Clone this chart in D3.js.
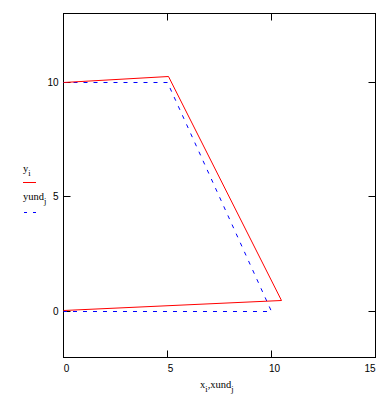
<!DOCTYPE html>
<html>
<head>
<meta charset="utf-8">
<script src="https://cdn.jsdelivr.net/npm/d3@7"></script>
<style>
  body { margin: 0; background: #fff; }
  svg { display: block; }
</style>
</head>
<body>
<div id="chart"></div>
<script>
// data
var xVals = [0, 5.05, 10.5, 0];
var yVals = [10, 10.25, 0.5, 0.03];
var xundVals = [0, 5, 10, 0];
var yundVals = [10, 10, 0, 0];
var xTicks = [0, 5, 10, 15];
var yTicks = [0, 5, 10];

var svgWidth = 388, svgHeight = 396;
var margin = { top: 13, right: 13, bottom: 39, left: 63 };
var width = svgWidth - margin.left - margin.right;
var height = svgHeight - margin.top - margin.bottom;

var svg = d3.select("#chart").append("svg")
  .attr("width", svgWidth)
  .attr("height", svgHeight);

// half-pixel offset so 1px lines land on whole pixels
var chartGroup = svg.append("g")
  .attr("transform", `translate(${margin.left + 0.5}, ${margin.top + 0.5})`);

var xScale = d3.scaleLinear().domain([0, 15]).rangeRound([0, width]);
var yScale = d3.scaleLinear().domain([-2, 13]).rangeRound([height, 0]);

// inward ticks on all four sides
var tick = 7;
function noLabels(g) { g.select(".domain").remove(); g.selectAll("text").remove(); }

chartGroup.append("g")
  .attr("transform", `translate(0, ${height})`)
  .call(d3.axisBottom(xScale).tickValues(xTicks).tickSize(-tick).tickPadding(7).offset(0))
  .call(g => g.select(".domain").remove())
  .call(g => g.selectAll("text")
    .attr("dx", (d, i) => i === xTicks.length - 1 ? 0 : 3)
    .attr("text-anchor", (d, i) => i === xTicks.length - 1 ? "end" : "middle"));

chartGroup.append("g")
  .call(d3.axisTop(xScale).tickValues(xTicks).tickSize(-tick).offset(0))
  .call(noLabels);

chartGroup.append("g")
  .call(d3.axisLeft(yScale).tickValues(yTicks).tickSize(-tick).tickPadding(5).offset(0))
  .call(g => g.select(".domain").remove());

chartGroup.append("g")
  .attr("transform", `translate(${width}, 0)`)
  .call(d3.axisRight(yScale).tickValues(yTicks).tickSize(-tick).offset(0))
  .call(noLabels);

chartGroup.selectAll(".tick line").attr("stroke", "#000");
chartGroup.selectAll(".tick text")
  .style("font-family", "'Liberation Sans', Arial, sans-serif")
  .style("font-size", "10px")
  .attr("fill", "#000");

// frame
chartGroup.append("rect")
  .attr("x", 0).attr("y", 0)
  .attr("width", width).attr("height", height)
  .attr("fill", "none")
  .attr("stroke", "#000");

// series
var line = d3.line()
  .x(d => xScale(d[0]))
  .y(d => yScale(d[1]));

chartGroup.append("path")
  .datum(xundVals.map((x, i) => [x, yundVals[i]]))
  .attr("d", line)
  .attr("fill", "none")
  .attr("stroke", "#0000ff")
  .attr("stroke-width", 1)
  .attr("stroke-dasharray", "4,6");

chartGroup.append("path")
  .datum(xVals.map((x, i) => [x, yVals[i]]))
  .attr("d", line)
  .attr("fill", "none")
  .attr("stroke", "#ff0000")
  .attr("stroke-width", 1);

// labels
var serif = "'Liberation Serif', 'Times New Roman', serif";

var xLabel = svg.append("text")
  .attr("x", 200)
  .attr("y", 388)
  .style("font-family", serif)
  .style("font-size", "10.5px");
xLabel.append("tspan").text("x");
xLabel.append("tspan").attr("dy", 4).style("font-size", "8.5px").text("i");
xLabel.append("tspan").attr("dy", -4).text(",xund");
xLabel.append("tspan").attr("dy", 4).style("font-size", "8.5px").text("j");

var yLabel1 = svg.append("text")
  .attr("x", 23)
  .attr("y", 172)
  .style("font-family", serif)
  .style("font-size", "10.5px");
yLabel1.append("tspan").text("y");
yLabel1.append("tspan").attr("dy", 4).style("font-size", "8.5px").text("i");

svg.append("line")
  .attr("x1", 23).attr("x2", 36)
  .attr("y1", 182.5).attr("y2", 182.5)
  .attr("stroke", "#ff0000");

var yLabel2 = svg.append("text")
  .attr("x", 23)
  .attr("y", 200)
  .style("font-family", serif)
  .style("font-size", "10.5px");
yLabel2.append("tspan").text("yund");
yLabel2.append("tspan").attr("dy", 4).style("font-size", "8.5px").text("j");

svg.append("line")
  .attr("x1", 24).attr("x2", 37)
  .attr("y1", 212.5).attr("y2", 212.5)
  .attr("stroke", "#0000ff")
  .attr("stroke-dasharray", "3,6");
</script>
</body>
</html>
